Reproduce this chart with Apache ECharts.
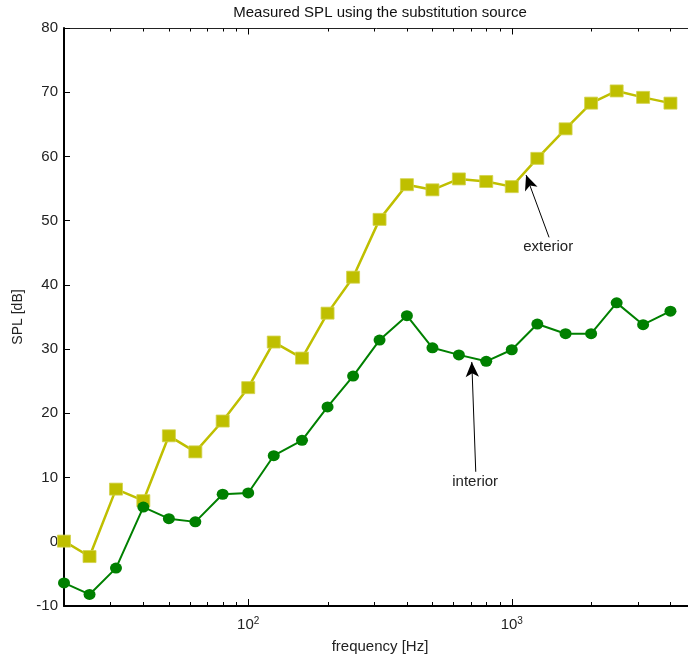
<!DOCTYPE html>
<html>
<head>
<meta charset="utf-8">
<script src="https://cdn.jsdelivr.net/npm/echarts@6/dist/echarts.min.js"></script>
<style>
  html, body { margin: 0; padding: 0; background: #fff; }
  #chart { width: 688px; height: 654px; }
</style>
</head>
<body>
<div id="chart"></div>
<script>
// One-third octave band centre frequencies [Hz]
const freqs = [20, 25, 31.5, 40, 50, 63, 80, 100, 125, 160, 200, 250, 315, 400, 500, 630, 800, 1000, 1250, 1600, 2000, 2500, 3150, 4000];
// Measured sound pressure levels [dB]
const exterior = [0.1, -2.3, 8.2, 6.4, 16.5, 14.0, 18.8, 24.0, 31.1, 28.6, 35.6, 41.2, 50.2, 55.6, 54.8, 56.5, 56.1, 55.3, 59.7, 64.3, 68.3, 70.2, 69.2, 68.3];
const interior = [-6.4, -8.2, -4.1, 5.4, 3.6, 3.1, 7.4, 7.6, 13.4, 15.8, 21.0, 25.8, 31.4, 35.2, 30.2, 29.1, 28.1, 29.9, 33.9, 32.4, 32.4, 37.2, 33.8, 35.9];
// Log-axis tick positions: decades and minor ticks
const majorTicks = [100, 1000];
const minorTicks = [30, 40, 50, 60, 70, 80, 90, 200, 300, 400, 500, 600, 700, 800, 900, 2000, 3000, 4000];
// Annotation arrows: [tail, head] in data coordinates, and text positions
const extArrow = [[1385, 47.4], [1133, 57.1]];
const intArrow = [[730, 10.9], [705, 28.0]];
const extText = [1374, 45.9];
const intText = [726, 9.4];

const X_MIN = 20, X_MAX = 5000, Y_MIN = -10, Y_MAX = 80;
const FS = 15;

const chart = echarts.init(document.getElementById('chart'), null, { renderer: 'canvas' });

const pair = (xs, ys) => xs.map((x, i) => [x, ys[i]]);
const tickData = majorTicks.map(f => [f, 1]).concat(minorTicks.map(f => [f, 0]));

const fontFamily = '"Liberation Sans", Arial, Helvetica, sans-serif';

chart.setOption({
  animation: false,
  backgroundColor: '#ffffff',
  textStyle: { fontFamily },
  grid: { left: 64, top: 28, width: 632, height: 578, containLabel: false, outerBoundsMode: 'none' },
  xAxis: [
    {
      type: 'log',
      logBase: 10,
      min: X_MIN,
      max: X_MAX,
      position: 'bottom',
      name: 'frequency [Hz]',
      nameLocation: 'middle',
      nameGap: 25,
      nameTextStyle: { fontSize: FS, color: '#222', fontFamily },
      axisLine: { show: true, onZero: false, lineStyle: { color: '#000', width: 2 } },
      axisTick: { show: false },
      splitLine: { show: false },
      minorTick: { show: false },
      axisLabel: {
        show: true,
        margin: 10,
        color: '#222',
        fontSize: FS,
        fontFamily,
        showMinLabel: false,
        showMaxLabel: false,
        formatter: function (v) {
          const e = Math.round(Math.log10(v));
          if (v === 100 || v === 1000) {
            return '{b|10}{s|' + e + '}';
          }
          return '';
        },
        rich: {
          b: { fontSize: FS, color: '#222', fontFamily, verticalAlign: 'bottom', lineHeight: 16 },
          s: { fontSize: 10, color: '#222', fontFamily, verticalAlign: 'top', lineHeight: 16, padding: [0, 0, 8, 0] }
        }
      }
    },
    {
      type: 'log',
      logBase: 10,
      min: X_MIN,
      max: X_MAX,
      position: 'top',
      name: 'Measured SPL using the substitution source',
      nameLocation: 'middle',
      nameGap: 8,
      nameTextStyle: { fontSize: FS, color: '#111', fontFamily },
      axisLine: { show: true, onZero: false, lineStyle: { color: '#222', width: 1 } },
      axisTick: { show: false },
      axisLabel: { show: false },
      splitLine: { show: false }
    }
  ],
  yAxis: {
    type: 'value',
    min: Y_MIN,
    max: Y_MAX,
    interval: 10,
    name: 'SPL [dB]',
    nameLocation: 'middle',
    nameGap: 34,
    nameTextStyle: { fontSize: 14, color: '#222', fontFamily },
    axisLine: { show: true, onZero: false, lineStyle: { color: '#000', width: 2 } },
    axisTick: { show: true, inside: true, length: 6, lineStyle: { color: '#000', width: 1 } },
    axisLabel: { color: '#222', fontSize: FS, fontFamily, margin: 6 },
    splitLine: { show: false }
  },
  series: [
    {
      name: 'ticks',
      type: 'custom',
      xAxisIndex: 0,
      clip: false,
      silent: true,
      encode: { x: 0, y: 1 },
      data: tickData,
      renderItem: function (params, api) {
        const f = api.value(0);
        const len = api.value(1) ? 6 : 3;
        const b = api.coord([f, Y_MIN]);
        const t = api.coord([f, Y_MAX]);
        const x = Math.round(b[0]) + 0.5;
        return {
          type: 'group',
          children: [
            { type: 'line', shape: { x1: x, y1: b[1] - 1, x2: x, y2: b[1] - 1 - len }, style: { stroke: '#000', lineWidth: 1 } },
            { type: 'line', shape: { x1: x, y1: t[1] + 0.5, x2: x, y2: t[1] + 0.5 + len }, style: { stroke: '#000', lineWidth: 1 } }
          ]
        };
      },
      z: 1
    },
    {
      name: 'exterior',
      type: 'line',
      xAxisIndex: 0,
      data: pair(freqs, exterior),
      symbol: 'rect',
      symbolSize: [13, 12],
      showAllSymbol: true,
      lineStyle: { color: '#BFBF00', width: 2.5 },
      itemStyle: { color: '#BFBF00', borderColor: '#D2D24A', borderWidth: 0.8 },
      markLine: {
        silent: true,
        symbol: ['none', 'arrow'],
        symbolSize: [10, 15],
        label: { show: false },
        lineStyle: { color: '#000', width: 1, type: 'solid' },
        data: [[{ coord: extArrow[0] }, { coord: extArrow[1] }]]
      },
      markPoint: {
        silent: true,
        symbol: 'circle',
        symbolSize: 0,
        label: { show: true, position: 'inside', formatter: 'exterior', color: '#222', fontSize: FS, fontFamily },
        data: [{ coord: extText }]
      },
      z: 3
    },
    {
      name: 'interior',
      type: 'line',
      xAxisIndex: 0,
      data: pair(freqs, interior),
      symbol: 'circle',
      symbolSize: [12, 11],
      showAllSymbol: true,
      lineStyle: { color: '#008000', width: 2 },
      itemStyle: { color: '#008000' },
      markLine: {
        silent: true,
        symbol: ['none', 'arrow'],
        symbolSize: [10, 15],
        label: { show: false },
        lineStyle: { color: '#000', width: 1, type: 'solid' },
        data: [[{ coord: intArrow[0] }, { coord: intArrow[1] }]]
      },
      markPoint: {
        silent: true,
        symbol: 'circle',
        symbolSize: 0,
        label: { show: true, position: 'inside', formatter: 'interior', color: '#222', fontSize: FS, fontFamily },
        data: [{ coord: intText }]
      },
      z: 4
    }
  ]
});
</script>
</body>
</html>
